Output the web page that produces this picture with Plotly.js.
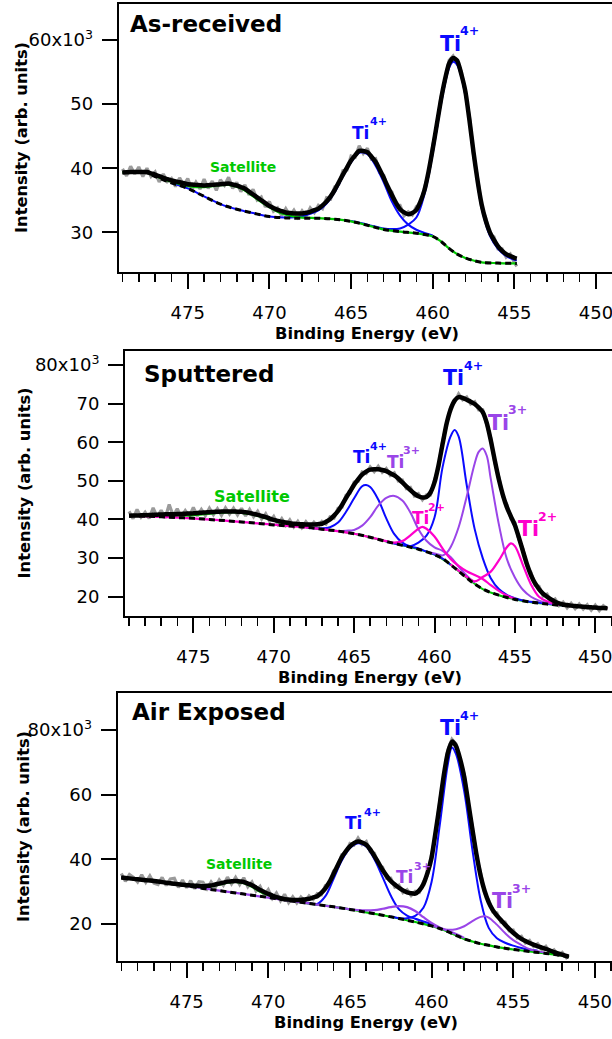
<!DOCTYPE html>
<html><head><meta charset="utf-8">
<script src="https://cdn.plot.ly/plotly-3.0.1.min.js"></script>
<style>html,body{margin:0;padding:0;background:#fff;}#chart{width:612px;height:1039px;}</style>
</head><body><div id="chart"></div>
<script>
// ===================== DATA (values in units of 10^3 counts, energies in eV) =====================
// ---- Panel 1: As-received ----
const p1_energy = [479,478.75,478.5,478.25,478,477.75,477.5,477.25,477,476.75,476.5,476.25,476,475.75,475.5,475.25,475,474.75,474.5,474.25,474,473.75,473.5,473.25,473,472.75,472.5,472.25,472,471.75,471.5,471.25,471,470.75,470.5,470.25,470,469.75,469.5,469.25,469,468.75,468.5,468.25,468,467.75,467.5,467.25,467,466.75,466.5,466.25,466,465.75,465.5,465.25,465,464.75,464.5,464.25,464,463.75,463.5,463.25,463,462.75,462.5,462.25,462,461.75,461.5,461.25,461,460.75,460.5,460.25,460,459.75,459.5,459.25,459,458.75,458.5,458.25,458,457.75,457.5,457.25,457,456.75,456.5,456.25,456,455.75,455.5,455.25,455,454.85];
const p1_raw = [39.9,38.8,40.3,39.1,40.2,38.7,40.0,38.7,39.4,37.85, 39.1,37.9,38.4,37.15,38.5,37.35,38.4,36.65,37.8,36.75, 38.3,36.85,38.0,36.55,38.2,37.35,38.6,36.85,37.8,36.35, 37.4,35.85,36.7,35.05,35.5,33.95,34.8,33.3,33.8,32.6, 33.7,32.6,33.45,32.35,33.35,32.55,33.8,33.05,34.2,33.7, 35.4,35.2,37.1,37.5,39.6,39.7,41.9,41.7,43.5,42.3, 43.1,41.4,41.5,39.3,38.9,36.8,36.3,34.2,34.2,32.6, 33.2,32.7,34.0,34.4,37.0,39.1,43.5,46.5,51.0,53.5, 56.8,57.5,56.4,55.1,51.7,48.0,42.1,38.4,33.9,32.2, 29.7,29.3,27.4,27.4,26.1,26.6,25.3,24.7];
const p1_fit = [39.35,39.37,39.4,39.4,39.4,39.4,39.4,39.2,39.0,38.75, 38.5,38.3,38.1,37.95,37.8,37.65,37.5,37.45,37.4,37.35, 37.3,37.35,37.4,37.45,37.5,37.55,37.6,37.45,37.3,37.05, 36.8,36.35,35.9,35.45,35.0,34.55,34.1,33.8,33.5,33.3, 33.1,33.0,32.95,32.95,32.95,33.05,33.2,33.45,33.7,34.2, 34.8,35.6,36.6,37.8,39.0,40.1,41.2,42.0,42.7,42.7, 42.5,41.8,41.0,39.8,38.5,37.1,35.8,34.6,33.6,33.1, 32.8,33.0,33.5,34.8,36.6,39.5,43.0,46.8,50.6,53.8, 56.3,57.2,56.8,54.7,52.0,47.5,42.5,38.0,34.3,31.8, 30.0,28.8,27.8,27.1,26.6,26.3,26.0,25.9];
const p1_bgE = [479,478,477.5,477,476,475,474,473,472,471,470,469,468,467,466,465,464,463,462,461,460,459.5,459,458.5,458,457.5,457,456,455,454.85];
const p1_bg  = [39.35,39.4,39.3,38.7,37.7,36.85,35.6,34.4,33.6,33.0,32.45,32.25,32.2,32.2,32.05,31.7,31.1,30.45,30.1,29.85,29.35,28.6,27.5,26.6,26.0,25.6,25.3,25.2,25.15,25.15];
const p1_satE = [479,478,477.5,477,476.5,476,475.5,475,474.5,474,473.5,473,472.5,472,471.5,471,470.5,470,469.5,469,468.5,468,467,466,465,464,463,462,461,460,459.5,459,458.5,458,457.5,457,456,455,454.85];
const p1_sat  = [39.35,39.4,39.3,38.8,38.3,37.9,37.5,37.2,37.05,37.05,37.2,37.35,37.4,37.1,36.5,35.6,34.7,33.9,33.2,32.75,32.45,32.3,32.2,32.05,31.7,31.1,30.45,30.1,29.85,29.35,28.6,27.5,26.6,26.0,25.6,25.3,25.2,25.15,25.15];
const p1_ti4aE = [476,475,474,473,472,471,470,469,468,467.5,467,466.5,466,465.5,465,464.5,464,463.5,463,462.5,462,461.5,461,460.5,460];
const p1_ti4a  = [37.7,36.85,35.6,34.4,33.6,33.0,32.45,32.3,32.5,32.9,33.4,34.5,36.3,38.7,40.9,42.4,42.2,40.4,37.8,34.8,32.6,31.2,30.4,29.9,29.5];
const p1_ti4bE = [465,464,463,462.5,462,461.5,461,460.5,460,459.5,459,458.75,458.5,458,457.5,457,456.5,456,455.5,455,454.85];
const p1_ti4b  = [31.75,31.2,30.6,30.5,30.6,31.2,32.3,36.0,42.3,49.9,55.6,56.6,56.1,51.4,41.9,33.8,29.5,27.4,26.3,25.7,25.6];

// ---- Panel 2: Sputtered ----
const p2_energy = [479,478.75,478.5,478.25,478,477.75,477.5,477.25,477,476.75,476.5,476.25,476,475.75,475.5,475.25,475,474.75,474.5,474.25,474,473.75,473.5,473.25,473,472.75,472.5,472.25,472,471.75,471.5,471.25,471,470.75,470.5,470.25,470,469.75,469.5,469.25,469,468.75,468.5,468.25,468,467.75,467.5,467.25,467,466.75,466.5,466.25,466,465.75,465.5,465.25,465,464.75,464.5,464.25,464,463.75,463.5,463.25,463,462.75,462.5,462.25,462,461.75,461.5,461.25,461,460.75,460.5,460.25,460,459.75,459.5,459.25,459,458.75,458.5,458.25,458,457.75,457.5,457.25,457,456.75,456.5,456.25,456,455.75,455.5,455.25,455,454.75,454.5,454.25,454,453.75,453.5,453.25,453,452.75,452.5,452.25,452,451.75,451.5,451.25,451,450.75,450.5,450.25,450,449.75,449.5,449.25];
const p2_raw = [42.1,40.2,42.6,40.6,41.9,40.3,43.0,40.7,42.4,40.4, 43.9,40.9,42.8,40.6,42.3,40.8,43.1,40.9,42.6,41.0, 42.9,41.2,42.8,41.1,43.0,41.4,42.9,41.2,42.9,40.9, 42.6,40.7,42.1,40.1,41.5,39.5,40.8,38.8,40.2,38.5, 39.9,38.1,39.5,37.9,39.4,38.0,39.3,38.1,39.5,38.8, 40.7,40.4,42.9,43.2,46.3,46.8,49.7,49.9,52.3,51.9, 53.6,52.4,53.8,52.2,53.2,51.4,52.1,50.0,50.2,48.0, 48.3,46.1,46.7,45.1,46.4,46.4,50.2,53.5,60.1,64.3, 69.1,70.4,72.5,71.0,71.7,69.9,70.5,68.4,68.4,64.5, 61.1,54.8,51.0,45.9,43.9,40.2,39.2,34.8,32.4,27.9, 26.3,23.0,22.7,20.2,20.7,18.7,19.4,17.7,18.6,17.1, 18.3,16.9,18.1,16.8,17.9,16.5,17.8,16.4,17.7,16.9];
const p2_fit = [41.0,41.03,41.05,41.08,41.1,41.15,41.2,41.25,41.3,41.33, 41.35,41.38,41.4,41.45,41.5,41.55,41.6,41.68,41.75,41.83, 41.9,41.95,42.0,42.05,42.1,42.08,42.05,42.03,42.0,41.85, 41.7,41.45,41.2,40.9,40.6,40.25,39.9,39.65,39.4,39.2, 39.0,38.9,38.8,38.75,38.7,38.7,38.7,38.8,38.9,39.4, 40.0,41.0,42.2,43.8,45.6,47.3,49.0,50.4,51.6,52.4, 52.9,53.0,53.0,52.8,52.5,52.0,51.4,50.6,49.6,48.6, 47.6,46.7,46.0,45.7,45.8,47.0,49.6,54.0,59.5,64.8, 68.5,70.8,71.7,71.5,71.0,70.5,69.9,69.0,67.8,65.0, 60.5,55.3,50.4,46.4,43.2,40.8,38.5,35.3,31.8,28.4, 25.6,23.5,22.0,20.8,20.0,19.3,18.7,18.3,18.0,17.85, 17.7,17.6,17.5,17.4,17.3,17.25,17.2,17.1,17.05,17.0];
const p2_bgE = [479,478,477,476,475,474,473,472,471,470,469,468,467,466,465,464,463,462,461,460,459.5,459,458.5,458,457.5,457,456.5,456,455.5,455,454,453,452,451,450,449.25];
const p2_bg  = [41.0,40.85,40.7,40.5,40.3,40.0,39.7,39.35,39.0,38.6,38.3,38.0,37.5,37.0,36.3,35.4,34.3,33.3,32.3,30.9,29.9,28.3,26.6,24.9,23.3,22.0,21.1,20.4,19.8,19.3,18.6,18.1,17.7,17.4,17.15,17.0];
const p2_satE = [479,478,477,476,475,474,473,472.5,472,471.5,471,470.5,470,469.5,469,468.5,468,467,466,465,464,463,462,461,460,459,458,457,456,455,454,453,452,451,450,449.25];
const p2_sat  = [41.0,40.9,40.85,40.9,41.1,41.5,41.8,41.85,41.7,41.4,40.9,40.3,39.7,39.1,38.7,38.3,38.05,37.5,37.0,36.3,35.4,34.3,33.3,32.3,30.9,28.3,24.9,22.0,20.4,19.3,18.6,18.1,17.7,17.4,17.15,17.0];
const p2_ti4aE = [468,467.5,467,466.5,466,465.5,465,464.5,464.25,464,463.5,463,462.5,462,461.5,461,460.5,460,459.5,459];
const p2_ti4a  = [38.0,37.75,37.7,38.0,39.2,42.0,45.5,48.6,48.9,48.4,45.2,40.3,36.2,34.0,33.0,32.5,31.7,30.95,29.9,28.3];
const p2_ti4bE = [463,462.5,462,461.5,461,460.5,460,459.5,459,458.75,458.5,458,457.5,457,456.5,456,455.5,455,454.5,454,453,452];
const p2_ti4b  = [34.3,33.8,33.4,33.1,34.0,35.8,40.5,53.5,61.5,63.2,61.5,49.0,37.5,30.0,24.8,22.0,20.5,19.6,19.0,18.7,18.15,17.75];
const p2_ti3aE = [466,465.5,465,464.5,464,463.5,463,462.5,462,461.5,461,460.5,460,459.5,459,458.5,458,457.5];
const p2_ti3a  = [37.0,37.1,37.3,38.4,40.6,43.6,45.6,46.1,44.9,41.8,37.5,34.5,32.8,31.9,30.3,27.8,25.5,23.6];
const p2_ti3bE = [460.5,460,459.5,459.25,459,458.5,458,457.5,457.25,457,456.75,456.5,456,455.5,455,454.5,454,453.5,453,452,451];
const p2_ti3b  = [31.75,31.2,30.7,31.3,32.8,38.0,45.9,54.5,57.5,58.4,56.5,50.5,38.8,29.8,25.0,21.8,20.0,19.0,18.4,17.8,17.45];
const p2_ti2aE = [479,477,475,473,471,469,467,465,464,463,462.5,462,461.5,461,460.75,460.5,460,459.5,459,458.5,458,457.5,457,456.5,456,455.5,455];
const p2_ti2a  = [41.0,40.7,40.3,39.7,39.0,38.3,37.5,36.3,35.4,34.4,34.0,34.4,35.9,37.6,38.1,37.6,35.6,32.5,29.8,28.0,26.6,25.6,24.6,23.0,21.5,20.3,19.5];
const p2_ti2bE = [459,458.5,458,457.5,457,456.5,456,455.5,455.25,455,454.5,454,453.5,453,452.5,452,451,450,449.25];
const p2_ti2b  = [28.35,26.75,25.15,24.0,25.1,26.5,29.4,32.8,33.8,33.1,28.2,23.2,20.0,18.8,18.2,17.8,17.4,17.15,17.0];

// ---- Panel 3: Air Exposed ----
const p3_energy = [479,478.75,478.5,478.25,478,477.75,477.5,477.25,477,476.75,476.5,476.25,476,475.75,475.5,475.25,475,474.75,474.5,474.25,474,473.75,473.5,473.25,473,472.75,472.5,472.25,472,471.75,471.5,471.25,471,470.75,470.5,470.25,470,469.75,469.5,469.25,469,468.75,468.5,468.25,468,467.75,467.5,467.25,467,466.75,466.5,466.25,466,465.75,465.5,465.25,465,464.75,464.5,464.25,464,463.75,463.5,463.25,463,462.75,462.5,462.25,462,461.75,461.5,461.25,461,460.75,460.5,460.25,460,459.75,459.5,459.25,459,458.75,458.5,458.25,458,457.75,457.5,457.25,457,456.75,456.5,456.25,456,455.75,455.5,455.25,455,454.75,454.5,454.25,454,453.75,453.5,453.25,453,452.75,452.5,452.25,452,451.75,451.6];
const p3_raw = [35.6,33.2,35.3,34.4,33.0,35.2,32.9,34.9,32.6,32.2, 34.4,31.9,33.9,34.1,31.3,33.6,31.2,33.4,30.9,33.1, 32.9,30.9,33.0,31.3,33.6,32.0,34.5,32.4,34.4,32.2, 34.3,31.5,33.0,30.2,31.6,28.9,30.6,27.9,29.6,27.2, 29.2,26.6,28.4,26.5,28.3,26.9,28.7,27.6,29.4,29.0, 31.9,32.4,36.4,37.5,41.4,41.9,44.9,44.4,46.6,44.6, 45.5,42.3,41.9,38.2,37.6,34.1,34.2,31.4,32.0,29.7, 30.6,28.8,30.1,29.8,33.0,35.2,41.3,47.8,57.8,65.4, 73.8,77.1,75.7,70.4,66.3,56.9,50.0,40.9,35.8,29.6, 27.4,23.7,23.4,20.6,20.6,17.9,18.1,15.7,16.2,14.1, 14.9,13.0,13.9,12.1,13.1,11.2,12.0,10.4,11.2,9.6, 10.4];
const p3_fit = [34.4,34.25,34.1,33.95,33.8,33.68,33.55,33.43,33.3,33.13, 32.95,32.78,32.6,32.45,32.3,32.15,32.0,31.93,31.85,31.78, 31.7,31.8,31.9,32.2,32.5,32.8,33.1,33.2,33.3,33.15, 33.0,32.5,32.0,31.25,30.5,29.9,29.3,28.8,28.3,28.0, 27.7,27.55,27.4,27.4,27.4,27.6,27.8,28.2,28.6,29.6, 31.0,33.0,35.5,38.1,40.6,42.5,44.0,45.0,45.5,45.2, 44.5,43.0,41.0,38.9,36.7,34.9,33.3,32.2,31.2,30.4, 29.8,29.5,29.4,30.4,32.3,35.8,40.5,48.5,57.0,66.0, 73.0,76.4,75.0,71.0,65.5,57.5,49.3,41.5,35.0,30.2, 26.7,24.3,22.6,21.2,19.8,18.5,17.3,16.3,15.4,14.7, 14.1,13.6,13.1,12.7,12.3,11.8,11.3,10.9,10.5,10.1, 9.9];
const p3_bgE = [479,478,477,476,475,474,473,472,471,470,469,468,467,466,465,464,463,462,461,460,459.5,459,458.5,458,457.5,457,456.5,456,455.5,455,454,453,452,451.6];
const p3_bg  = [34.4,33.8,33.2,32.5,31.8,31.0,30.3,29.6,28.9,28.2,27.4,26.7,26.0,25.3,24.5,23.6,22.7,21.7,20.6,19.4,18.6,17.6,16.5,15.4,14.6,13.9,13.4,12.9,12.5,12.1,11.5,10.9,10.2,9.8];
const p3_satE = [479,478,477,476,475,474,473.5,473,472.5,472,471.5,471,470.5,470,469.5,469,468.5,468,467,466,465,464,463,462,461,460,459.5,459,458.5,458,457.5,457,456.5,456,455.5,455,454,453,452,451.6];
const p3_sat  = [34.4,33.8,33.2,32.5,31.9,31.4,31.6,32.2,32.8,33.0,32.6,31.5,30.0,28.9,28.1,27.5,27.1,26.7,26.0,25.3,24.5,23.6,22.7,21.7,20.6,19.4,18.6,17.6,16.5,15.4,14.6,13.9,13.4,12.9,12.5,12.1,11.5,10.9,10.2,9.8];
const p3_ti4aE = [468,467.5,467,466.5,466,465.5,465,464.5,464,463.5,463,462.5,462,461.5,461,460.5,460,459.5];
const p3_ti4a  = [26.7,26.4,26.2,28.6,34.0,39.6,43.5,45.0,44.0,40.0,34.5,28.8,24.6,22.6,21.6,20.8,19.9,18.8];
const p3_ti4bE = [462.5,462,461.5,461,460.5,460,459.5,459,458.75,458.5,458,457.5,457,456.5,456,455.5,455,454.5,454,453.5];
const p3_ti4b  = [22.3,21.8,21.8,22.5,25.0,33.0,50.5,69.5,74.6,72.5,61.0,43.0,27.5,18.8,15.6,14.2,13.3,12.6,12.1,11.7];
const p3_ti3aE = [479,477,475,473,471,469,467,466,465,464.5,464,463.5,463,462.5,462,461.5,461,460.5,460,459.5,459,458.5,458];
const p3_ti3a  = [34.4,33.2,31.8,30.3,28.9,27.4,26.0,25.3,24.55,24.3,24.2,24.3,24.7,25.2,25.5,25.2,24.0,22.1,20.3,18.9,17.9,16.9,15.7];
const p3_ti3bE = [460,459.5,459,458.5,458,457.5,457,456.75,456.5,456,455.5,455,454.5,454,453.5,453];
const p3_ti3b  = [19.5,18.75,18.2,18.4,19.3,20.9,22.2,22.4,22.0,19.8,17.2,15.0,13.5,12.2,11.6,11.0];

// Axis tick values / labels
const xTickVals = [450,455,460,465,470,475];
const y1TickVals = [30,40,50,60];
const y1TickText = ['30','40','50','60x10<sup>3</sup>'];
const y2TickVals = [20,30,40,50,60,70,80];
const y2TickText = ['20','30','40','50','60','70','80x10<sup>3</sup>'];
const y3TickVals = [20,40,60,80];
const y3TickText = ['20','40','60','80x10<sup>3</sup>'];

// ===================== STYLE / LAYOUT =====================
const W = 612, H = 1039;
const FONT = '"DejaVu Sans", "Liberation Sans", sans-serif';
const COL = {blue:'#0a0aff', purple:'#9a45e8', magenta:'#ff00cc', green:'#00c800', gray:'#9b9b9b', black:'#000000'};

function tr(x, y, ax, color, width, opts) {
  opts = opts || {};
  return {type:'scatter', mode:'lines', x:x, y:y, xaxis:'x'+ax, yaxis:'y'+ax,
    line:{color:color, width:width, dash:opts.dash||'solid', shape:opts.shape||'spline', smoothing:opts.smoothing===undefined?1:opts.smoothing},
    hoverinfo:'skip', showlegend:false};
}
const DASH = '6px,4px';
const data = [
  // panel 1
  tr(p1_energy, p1_raw, '', COL.gray, 3.2, {shape:'linear'}),
  tr(p1_ti4aE, p1_ti4a, '', COL.blue, 2),
  tr(p1_ti4bE, p1_ti4b, '', COL.blue, 2),
  tr(p1_satE, p1_sat, '', COL.green, 2.2),
  tr(p1_bgE, p1_bg, '', COL.black, 3, {dash:DASH}),
  tr(p1_energy, p1_fit, '', COL.black, 4.5, {smoothing:0.6}),
  // panel 2
  tr(p2_energy, p2_raw, '2', COL.gray, 3.2, {shape:'linear'}),
  tr(p2_satE, p2_sat, '2', COL.green, 2),
  tr(p2_ti4aE, p2_ti4a, '2', COL.blue, 2),
  tr(p2_ti4bE, p2_ti4b, '2', COL.blue, 2),
  tr(p2_ti3aE, p2_ti3a, '2', COL.purple, 2),
  tr(p2_ti3bE, p2_ti3b, '2', COL.purple, 2),
  tr(p2_ti2aE, p2_ti2a, '2', COL.magenta, 2.2),
  tr(p2_ti2bE, p2_ti2b, '2', COL.magenta, 2.2),
  tr(p2_bgE, p2_bg, '2', COL.black, 3, {dash:DASH}),
  tr(p2_energy, p2_fit, '2', COL.black, 4.5, {smoothing:0.6}),
  // panel 3
  tr(p3_energy, p3_raw, '3', COL.gray, 3.2, {shape:'linear'}),
  tr(p3_satE, p3_sat, '3', COL.green, 2.2),
  tr(p3_ti4aE, p3_ti4a, '3', COL.blue, 2),
  tr(p3_ti4bE, p3_ti4b, '3', COL.blue, 2),
  tr(p3_ti3bE, p3_ti3b, '3', COL.purple, 2),
  tr(p3_ti3aE, p3_ti3a, '3', COL.purple, 2.2),
  tr(p3_bgE, p3_bg, '3', COL.black, 3, {dash:DASH}),
  tr(p3_energy, p3_fit, '3', COL.black, 4.5, {smoothing:0.6})
];

function xAxis(left, range, anchor) {
  return {domain:[left,1], range:range, anchor:anchor, showline:true, linecolor:'#000', linewidth:2, mirror:true,
    ticks:'outside', ticklen:15, tickwidth:2, tickcolor:'#000', tickmode:'array', tickvals:xTickVals,
    ticktext:xTickVals.map(String), ticklabeloverflow:'allow',
    minor:{ticks:'outside', ticklen:8, tickwidth:1.5, tickcolor:'#000', dtick:1, tick0:450, showgrid:false},
    showgrid:false, zeroline:false, tickfont:{family:FONT, size:18, color:'#000'}, ticklabelstandoff:8, fixedrange:true};
}
function yAxis(dom, range, anchor, vals, text) {
  return {domain:dom, range:range, anchor:anchor, showline:true, linecolor:'#000', linewidth:2, mirror:false,
    ticks:'outside', ticklen:15, tickwidth:2, tickcolor:'#000', tickmode:'array', tickvals:vals, ticktext:text,
    showgrid:false, zeroline:false, tickfont:{family:FONT, size:18, color:'#000'}, ticklabelstandoff:5, fixedrange:true};
}
function T(text, px, py, size, color, extra) {
  return Object.assign({xref:'paper', yref:'paper', x:px/W, y:1-py/H, text:text, showarrow:false,
    xanchor:'left', yanchor:'middle', borderpad:0, font:{family:FONT, size:size, color:color}}, extra||{});
}
const SMALL = 17, SUPS = 11, BIG = 20.5, SUPB = 12.5;
const annotations = [
  // panel titles
  T('<b>As-received</b>', 129, 24.2, 23, '#000'),
  T('<b>Sputtered</b>', 142.5, 373.7, 23, '#000'),
  T('<b>Air Exposed</b>', 131, 712, 23, '#000'),
  // axis titles
  T('<b>Binding Energy (eV)</b>', 367, 334, 16.3, '#000', {xanchor:'center'}),
  T('<b>Binding Energy (eV)</b>', 370, 677, 16.3, '#000', {xanchor:'center'}),
  T('<b>Binding Energy (eV)</b>', 366.3, 1022.5, 16.3, '#000', {xanchor:'center'}),
  T('<b>Intensity (arb. units)</b>', 22, 138, 16.3, '#000', {xanchor:'center', textangle:-90}),
  T('<b>Intensity (arb. units)</b>', 24, 483.5, 16.3, '#000', {xanchor:'center', textangle:-90}),
  T('<b>Intensity (arb. units)</b>', 23, 827, 16.3, '#000', {xanchor:'center', textangle:-90}),
  // panel 1 labels
  T('<b>Satellite</b>', 209, 166.7, 14, COL.green),
  T('<b>Ti</b>', 350.5, 132.5, SMALL, COL.blue), T('<b>4+</b>', 368.5, 121.5, SUPS, COL.blue),
  T('<b>Ti</b>', 438.5, 43.7, BIG, COL.blue), T('<b>4+</b>', 458.5, 30.2, SUPB, COL.blue),
  // panel 2 labels
  T('<b>Satellite</b>', 213, 496, 16, COL.green),
  T('<b>Ti</b>', 351.5, 457, SMALL, COL.blue), T('<b>4+</b>', 368.5, 446.2, SUPS, COL.blue),
  T('<b>Ti</b>', 386.3, 461.7, SMALL, COL.purple), T('<b>3+</b>', 401.8, 450.8, SUPS, COL.purple),
  T('<b>Ti</b>', 410.7, 518.3, SMALL, COL.magenta), T('<b>2+</b>', 426.5, 507.5, SUPS, COL.magenta),
  T('<b>Ti</b>', 442, 378.3, BIG, COL.blue), T('<b>4+</b>', 463, 365.8, SUPB, COL.blue),
  T('<b>Ti</b>', 487, 422.8, BIG, COL.purple), T('<b>3+</b>', 507, 409.5, SUPB, COL.purple),
  T('<b>Ti</b>', 517.3, 528.8, BIG, COL.magenta), T('<b>2+</b>', 537, 516.2, SUPB, COL.magenta),
  // panel 3 labels
  T('<b>Satellite</b>', 205, 864.3, 14, COL.green),
  T('<b>Ti</b>', 344.4, 823.3, SMALL, COL.blue), T('<b>4+</b>', 362.5, 812.5, SUPS, COL.blue),
  T('<b>Ti</b>', 395.2, 877, SMALL, COL.purple), T('<b>3+</b>', 413.2, 866.5, SUPS, COL.purple),
  T('<b>Ti</b>', 439.3, 728.3, BIG, COL.blue), T('<b>4+</b>', 459.3, 715.3, SUPB, COL.blue),
  T('<b>Ti</b>', 490.8, 901, BIG, COL.purple), T('<b>3+</b>', 510.8, 888, SUPB, COL.purple)
];

const layout = {
  width:W, height:H, margin:{l:0, r:0, t:0, b:0, pad:0}, paper_bgcolor:'#fff', plot_bgcolor:'#fff', showlegend:false,
  xaxis:  xAxis(118.7/W, [479.23, 449.02], 'y'),
  yaxis:  yAxis([1-272.3/H, 1-4/H], [23.76, 65.62], 'x', y1TickVals, y1TickText),
  xaxis2: xAxis(125/W, [479.25, 448.96], 'y2'),
  yaxis2: yAxis([1-616/H, 1-351/H], [15.01, 83.63], 'x2', y2TickVals, y2TickText),
  xaxis3: xAxis(117.7/W, [479.22, 448.95], 'y3'),
  yaxis3: yAxis([1-961/H, 1-693.3/H], [8.55, 91.35], 'x3', y3TickVals, y3TickText),
  annotations: annotations
};
Plotly.newPlot('chart', data, layout, {staticPlot:true, displayModeBar:false});
</script></body></html>
